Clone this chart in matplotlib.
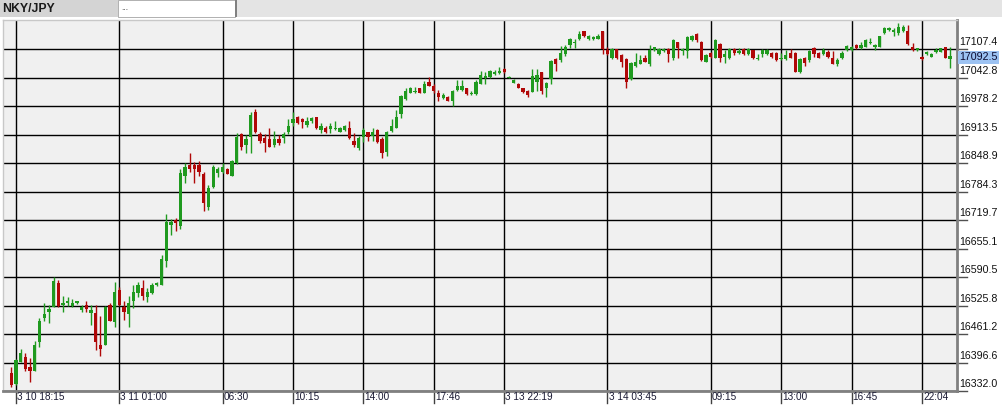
import numpy as np
import matplotlib.pyplot as plt
from matplotlib.patches import Rectangle
from matplotlib.transforms import blended_transform_factory

plt.rcParams['font.family'] = ['Liberation Sans', 'DejaVu Sans']

# 15 minute bars (bar index -1 .. 199)
symbol = 'NKY/JPY'
last_price = 17092.5
price_ticks = [17107.4, 17042.8, 16978.2, 16913.5, 16848.9, 16784.3, 16719.7,
               16655.1, 16590.5, 16525.8, 16461.2, 16396.6, 16332.0]
time_labels = ['3 10 18:15', '3 11 01:00', '06:30', '10:15', '14:00', '17:46',
               '3 13 22:19', '3 14 03:45', '09:15', '13:00', '16:45', '22:04']
time_label_bars = [0, 22, 44, 59, 74, 89, 104, 126, 148, 163, 178, 193]

opens = [16373.6, 16347.9, 16398.5, 16409.9, 16386.5, 16378.1, 16443.1, 16498.3, 16511.9, 16523.2,
         16577.6, 16527.0, 16530.8, 16524.7, 16532.3, 16515.7, 16527.0, 16509.6, 16509.6, 16437.1,
         16437.1, 16527.0, 16489.2, 16561.0, 16523.2, 16506.6, 16536.8, 16553.5, 16564.8, 16544.4,
         16553.5, 16572.4, 16572.4, 16627.5, 16708.4, 16719.0, 16706.9, 16820.3, 16844.5, 16845.2,
         16844.5, 16824.0, 16749.9, 16795.3, 16825.6, 16829.4, 16835.4, 16820.3, 16848.2, 16914.8,
         16889.8, 16908.7, 16965.4, 16914.8, 16904.9, 16903.4, 16889.8, 16903.4, 16904.9, 16919.3,
         16940.5, 16954.0, 16948.8, 16935.2, 16945.0, 16952.5, 16923.8, 16929.1, 16925.3, 16925.3,
         16920.0, 16923.8, 16929.1, 16899.6, 16883.8, 16908.7, 16919.3, 16911.0, 16923.8, 16903.4,
         16873.2, 16921.6, 16929.1, 16959.3, 16994.9, 17008.5, 17009.2, 17018.3, 17008.5, 17033.4,
         17023.6, 17008.5, 16995.6, 16997.9, 16990.3, 17014.5, 17014.5, 17018.3, 17004.7, 17004.7,
         17028.1, 17040.9, 17044.7, 17050.0, 17052.3, 17062.1, 17042.4, 17031.1, 17028.1, 17018.3,
         17012.2, 17010.7, 17033.4, 17054.5, 17019.8, 17038.7, 17084.0, 17082.5, 17095.3, 17116.5,
         17120.3, 17130.1, 17148.2, 17129.3, 17130.1, 17130.1, 17148.2, 17105.2, 17086.3, 17106.7,
         17093.8, 17084.0, 17038.7, 17069.6, 17074.2, 17087.8, 17074.2, 17105.2, 17095.3, 17103.6,
         17106.7, 17086.3, 17122.5, 17102.9, 17102.9, 17127.8, 17140.7, 17124.0, 17078.7, 17097.6,
         17087.8, 17118.0, 17090.0, 17086.3, 17107.4, 17097.6, 17106.7, 17095.3, 17104.4, 17084.0,
         17095.3, 17096.8, 17099.1, 17097.6, 17084.0, 17084.0, 17099.1, 17097.6, 17054.5, 17086.3,
         17082.5, 17108.9, 17097.6, 17095.3, 17099.9, 17087.8, 17073.4, 17086.3, 17105.2, 17105.2,
         17116.5, 17108.9, 17112.7, 17120.3, 17112.7, 17112.7, 17142.9, 17150.5, 17145.2, 17142.9,
         17148.2, 17148.2, 17112.7, 17105.2, 17090.0, 17096.1, 17090.0, 17099.9, 17101.4, 17111.2,
         17084.0]
highs = [16385.7, 16403.8, 16427.3, 16418.9, 16406.1, 16446.2, 16498.3, 16530.8, 16527.0, 16591.2,
         16583.7, 16547.4, 16545.9, 16539.9, 16536.8, 16527.0, 16536.8, 16527.0, 16527.0, 16502.1,
         16524.7, 16532.3, 16579.9, 16568.6, 16536.1, 16547.4, 16572.4, 16579.9, 16583.7, 16564.8,
         16576.1, 16579.9, 16640.4, 16732.6, 16722.0, 16725.0, 16835.4, 16848.2, 16870.9, 16852.0,
         16853.5, 16828.0, 16799.0, 16843.7, 16840.7, 16848.2, 16836.9, 16855.8, 16916.3, 16917.8,
         16912.5, 16965.4, 16970.7, 16919.3, 16914.0, 16929.1, 16921.6, 16912.5, 16920.0, 16948.8,
         16963.9, 16955.6, 16951.8, 16952.5, 16954.0, 16954.0, 16940.5, 16932.9, 16938.9, 16944.2,
         16931.4, 16935.2, 16945.0, 16916.3, 16910.2, 16927.6, 16920.0, 16927.6, 16925.3, 16908.7,
         16920.8, 16948.0, 16969.2, 17003.2, 17018.3, 17022.1, 17022.1, 17019.8, 17035.7, 17043.2,
         17027.3, 17014.5, 17007.0, 17000.9, 17014.5, 17037.2, 17037.2, 17019.8, 17013.0, 17037.2,
         17058.3, 17056.1, 17059.8, 17059.8, 17067.4, 17063.6, 17047.0, 17039.4, 17029.6, 17019.8,
         17014.5, 17062.1, 17062.1, 17056.0, 17033.4, 17082.5, 17086.3, 17115.0, 17116.5, 17131.6,
         17130.1, 17148.2, 17149.0, 17139.2, 17137.6, 17140.7, 17149.0, 17112.7, 17110.4, 17107.4,
         17095.3, 17086.3, 17078.7, 17097.6, 17093.8, 17093.8, 17116.5, 17112.7, 17108.9, 17108.9,
         17108.9, 17130.1, 17124.0, 17110.4, 17137.6, 17139.2, 17142.9, 17125.6, 17095.3, 17099.9,
         17129.3, 17120.3, 17105.2, 17108.9, 17108.9, 17108.9, 17108.9, 17108.9, 17105.9, 17095.3,
         17107.4, 17107.4, 17101.4, 17099.9, 17097.6, 17105.2, 17106.7, 17099.9, 17086.3, 17090.0,
         17105.2, 17112.7, 17101.4, 17110.4, 17105.2, 17102.9, 17087.8, 17102.9, 17116.5, 17115.0,
         17118.0, 17122.5, 17129.3, 17133.1, 17118.0, 17137.6, 17158.0, 17158.0, 17154.3, 17165.6,
         17161.8, 17161.8, 17120.3, 17110.4, 17091.5, 17102.9, 17097.6, 17108.9, 17110.4, 17112.7,
         17111.2]
lows = [16340.4, 16346.4, 16397.0, 16377.4, 16353.2, 16377.4, 16432.5, 16491.5, 16487.0, 16521.7,
        16522.5, 16511.9, 16524.7, 16523.2, 16529.3, 16511.9, 16511.9, 16481.7, 16425.0, 16412.1,
        16437.1, 16491.5, 16477.9, 16524.7, 16493.0, 16477.9, 16519.5, 16545.9, 16538.3, 16533.1,
        16552.0, 16570.8, 16572.4, 16612.4, 16685.7, 16695.5, 16699.3, 16802.9, 16829.4, 16804.4,
        16820.3, 16740.9, 16742.4, 16791.6, 16818.0, 16825.6, 16823.3, 16819.5, 16846.7, 16878.5,
        16870.9, 16870.9, 16916.3, 16895.1, 16874.7, 16884.5, 16886.0, 16889.8, 16895.1, 16914.8,
        16932.9, 16937.4, 16929.1, 16929.9, 16940.5, 16926.8, 16916.3, 16916.3, 16916.3, 16923.8,
        16919.3, 16922.3, 16903.4, 16886.0, 16878.5, 16897.4, 16899.6, 16899.6, 16895.1, 16861.1,
        16865.6, 16919.3, 16927.6, 16950.3, 16991.8, 17007.0, 17007.0, 17007.7, 17007.0, 17023.6,
        17007.0, 16990.3, 16994.1, 16989.6, 16978.2, 17013.0, 17013.0, 17003.2, 17003.2, 17003.2,
        17027.3, 17028.1, 17040.9, 17048.5, 17050.0, 17052.3, 17040.9, 17029.6, 17018.3, 17008.4,
        16999.4, 17009.2, 17012.2, 17004.6, 16999.4, 17027.3, 17057.5, 17078.7, 17092.3, 17108.9,
        17108.9, 17127.8, 17135.4, 17127.8, 17127.8, 17129.3, 17095.3, 17093.8, 17084.7, 17084.7,
        17067.4, 17019.8, 17037.1, 17067.4, 17072.7, 17077.2, 17069.6, 17102.9, 17093.8, 17101.4,
        17078.7, 17083.2, 17087.8, 17093.8, 17087.8, 17125.6, 17124.0, 17080.2, 17077.2, 17086.3,
        17086.3, 17078.7, 17074.9, 17084.7, 17093.8, 17095.3, 17093.8, 17093.8, 17084.0, 17082.5,
        17090.0, 17093.8, 17087.8, 17080.2, 17082.5, 17082.5, 17086.3, 17054.5, 17052.3, 17069.6,
        17078.7, 17090.0, 17086.3, 17093.8, 17087.8, 17072.7, 17069.6, 17084.7, 17102.9, 17102.9,
        17107.4, 17106.7, 17111.2, 17118.0, 17105.2, 17111.2, 17141.4, 17149.0, 17137.6, 17139.2,
        17146.7, 17116.5, 17103.6, 17102.9, 17082.5, 17093.8, 17088.5, 17097.6, 17099.9, 17086.3,
        17063.6]
closes = [16345.6, 16402.3, 16417.4, 16381.9, 16378.1, 16436.3, 16490.7, 16506.6, 16517.9, 16581.4,
          16525.5, 16530.8, 16536.1, 16532.3, 16535.3, 16523.2, 16518.7, 16515.7, 16443.9, 16428.0,
          16523.2, 16491.5, 16556.5, 16526.3, 16511.9, 16530.8, 16556.5, 16571.6, 16547.4, 16555.7,
          16571.6, 16576.1, 16631.3, 16715.2, 16714.4, 16712.2, 16825.6, 16840.7, 16835.4, 16835.4,
          16829.4, 16757.6, 16791.6, 16840.7, 16835.4, 16840.7, 16824.1, 16853.5, 16908.7, 16886.0,
          16903.4, 16957.8, 16920.0, 16899.6, 16895.1, 16886.0, 16903.4, 16893.6, 16914.8, 16932.9,
          16948.8, 16940.5, 16941.2, 16944.2, 16950.3, 16929.1, 16932.9, 16919.3, 16932.9, 16929.1,
          16929.1, 16932.9, 16904.9, 16889.8, 16904.9, 16923.8, 16908.7, 16919.3, 16897.4, 16870.9,
          16919.3, 16932.9, 16952.5, 17000.9, 17013.0, 17018.3, 17012.2, 17008.5, 17027.3, 17024.3,
          17012.2, 16999.4, 17003.2, 16990.3, 17012.2, 17023.6, 17023.6, 17004.7, 17008.5, 17033.4,
          17048.5, 17047.0, 17057.5, 17054.5, 17057.5, 17054.5, 17044.7, 17036.4, 17019.8, 17009.2,
          17003.1, 17046.2, 17048.5, 17012.2, 17029.6, 17080.2, 17073.4, 17097.6, 17112.7, 17129.3,
          17124.0, 17140.7, 17137.6, 17136.9, 17133.9, 17136.9, 17106.7, 17095.3, 17107.4, 17086.3,
          17078.7, 17033.4, 17074.9, 17077.2, 17082.5, 17078.7, 17105.2, 17111.2, 17106.7, 17106.7,
          17095.3, 17127.8, 17108.9, 17106.7, 17133.9, 17137.6, 17127.8, 17082.5, 17093.8, 17090.0,
          17127.8, 17087.8, 17095.3, 17107.4, 17097.6, 17103.6, 17095.3, 17106.7, 17086.3, 17087.8,
          17104.4, 17105.2, 17090.0, 17082.5, 17087.8, 17093.8, 17087.8, 17056.0, 17084.7, 17074.9,
          17102.9, 17095.3, 17087.8, 17105.2, 17089.3, 17074.2, 17082.5, 17099.1, 17114.2, 17112.7,
          17108.9, 17116.5, 17127.8, 17124.0, 17116.5, 17136.9, 17154.3, 17154.3, 17150.5, 17156.5,
          17158.0, 17118.0, 17105.2, 17108.9, 17084.0, 17099.9, 17096.1, 17105.2, 17108.9, 17087.8,
          17092.5]
first_bar = -1

W, H = 1002, 413
fig = plt.figure(figsize=(W / 100, H / 100), dpi=100)
fig.patch.set_facecolor('white')


def fx(px):
    return px / W


def fy(py):
    return 1 - py / H


# header strip with the symbol tab
fig.patches.append(Rectangle((0, fy(17)), 1, 17 / H, transform=fig.transFigure,
                             facecolor='#e4e4e4', edgecolor='none'))
fig.patches.append(Rectangle((0, fy(17)), fx(118), 17 / H, transform=fig.transFigure,
                             facecolor='#d4d4d4', edgecolor='none'))
fig.patches.append(Rectangle((fx(118), fy(17)), fx(117), 17 / H, transform=fig.transFigure,
                             facecolor='white', edgecolor='#b0b0b0', linewidth=0.7))
fig.patches.append(Rectangle((fx(235), fy(17)), fx(2), 17 / H, transform=fig.transFigure,
                             facecolor='#808080', edgecolor='none'))
fig.text(fx(2), fy(8.5), symbol, fontsize=8.8, fontweight='bold', color='#1a1a1a',
         va='center', ha='left')
fig.text(fx(121), fy(9), '...', fontsize=6, color='#333333', va='center', ha='left')

ax = fig.add_axes([fx(3), fy(391), fx(954), 371 / H])
ax.set_facecolor('#f0f0f0')

o = np.array(opens)
h = np.array(highs)
l = np.array(lows)
c = np.array(closes)
x = np.arange(len(o)) + first_bar
up = c >= o
colors = np.where(up, '#1f9a1f', '#b00808')

# grid
for p in price_ticks:
    ax.axhline(p, color='black', linewidth=1, zorder=1)
for b in time_label_bars:
    ax.axvline(b, color='black', linewidth=1, zorder=1)

# candles
ax.vlines(x, l, h, colors=colors, linewidth=1, zorder=2)
body_low = np.minimum(o, c)
body_h = np.maximum(np.abs(c - o), 2.3)
ax.bar(x, body_h, bottom=body_low, width=0.7, color=colors, linewidth=0, zorder=3)

ax.set_xlim(-2.77, 200.47)
ax.set_ylim(16332.0, 17173.2)
ax.set_xticks([])
ax.set_yticks([])

for side in ['top', 'left']:
    ax.spines[side].set_color('#c8c8c8')
    ax.spines[side].set_linewidth(1)
for side in ['right', 'bottom']:
    ax.spines[side].set_color('#808080')
    ax.spines[side].set_linewidth(2)

# price scale on the right
ty = blended_transform_factory(ax.transAxes, ax.transData)
for p in price_ticks:
    ax.plot([1, 1 + 10 / 954], [p, p], transform=ty, color='#505050', linewidth=1,
            clip_on=False)
    ax.annotate(f'{p:.1f}', xy=(1, p), xycoords=ty, xytext=(1.4, 4.8),
                textcoords='offset points', fontsize=7.7, va='center', ha='left',
                color='#111111')
ax.annotate(f'{last_price:.1f}', xy=(1, last_price), xycoords=ty, xytext=(1.4, -1.2),
            textcoords='offset points', fontsize=7.7, va='center', ha='left',
            color='#0a0a30',
            bbox=dict(boxstyle='square,pad=0.12', facecolor='#9cc2f2', edgecolor='none'))

# time scale at the bottom
tx = blended_transform_factory(ax.transData, ax.transAxes)
for b, lab in zip(time_label_bars, time_labels):
    ax.plot([b, b], [0, -12 / 371], transform=tx, color='#404040', linewidth=1,
            clip_on=False)
    ax.annotate(lab, xy=(b, 0), xycoords=tx, xytext=(0.8, -4.3),
                textcoords='offset points', fontsize=7.2, va='center', ha='left',
                color='#1a1a33')

fig.savefig('out.png', dpi=100, facecolor='white')
